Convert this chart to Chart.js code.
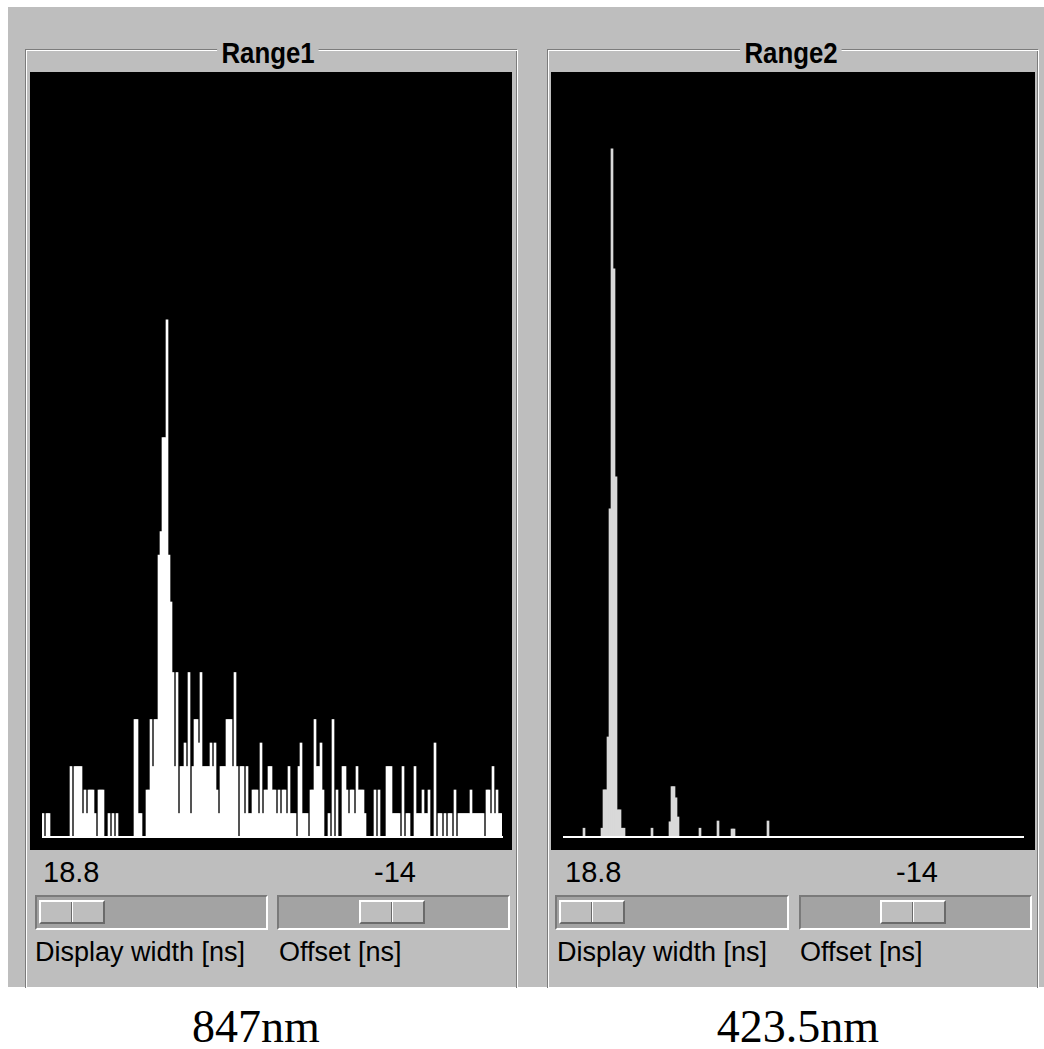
<!DOCTYPE html>
<html>
<head>
<meta charset="utf-8">
<script src="https://cdn.jsdelivr.net/npm/chart.js@4/dist/chart.umd.min.js"></script>
<style>
  html,body{margin:0;padding:0;background:#fff;width:1044px;height:1049px;overflow:hidden;}
  .abs{position:absolute;}
  #bg{left:8px;top:7px;width:1036px;height:980px;background:#bebebe;}
  .frameD{border:1px solid #7c7c7c;border-bottom:none;}
  .frameW{border:1px solid #ffffff;border-bottom:none;}
  .title{font-family:"Liberation Sans",Arial,sans-serif;font-weight:bold;font-size:30px;line-height:30px;color:#000;background:#bebebe;padding:0 5px;transform:translateX(-50%) scaleX(0.86);white-space:nowrap;}
  .black{background:#000;}
  .num{font-family:"Liberation Sans",Arial,sans-serif;font-size:29px;line-height:29px;color:#000;white-space:nowrap;}
  .lab{font-family:"Liberation Sans",Arial,sans-serif;font-size:27px;line-height:27px;color:#000;white-space:nowrap;}
  .trough{background:#a3a3a3;box-sizing:border-box;border:2px solid;border-color:#7a7a7a #ffffff #ffffff #7a7a7a;}
  .thumb{background:#bebebe;box-sizing:border-box;border:2px solid;border-color:#ffffff #6a6a6a #6a6a6a #ffffff;}
  .div1{background:#6a6a6a;width:1px;}
  .div2{background:#ffffff;width:1px;}
  .cap{font-family:"Liberation Serif","Times New Roman",serif;font-size:46px;line-height:46px;color:#000;white-space:nowrap;transform:translateX(-50%);}
</style>
</head>
<body>
<div id="bg" class="abs"></div>

<!-- Range1 frame -->
<div class="abs frameD" style="left:25px;top:49px;width:490px;height:938px;"></div>
<div class="abs frameW" style="left:26px;top:50px;width:490px;height:937px;"></div>
<div class="abs title" style="left:268px;top:38px;">Range1</div>
<div class="abs black" style="left:30px;top:72px;width:482px;height:778px;">
  <canvas id="c1" width="482" height="778"></canvas>
</div>
<div class="abs num" style="left:43px;top:858px;">18.8</div>
<div class="abs num" style="left:316px;top:858px;width:100px;text-align:right;">-14</div>
<div class="abs trough" style="left:35px;top:895px;width:233px;height:35px;"></div>
<div class="abs thumb" style="left:39px;top:900px;width:66px;height:24px;"></div>
<div class="abs div1" style="left:71px;top:902px;height:20px;"></div>
<div class="abs div2" style="left:72px;top:902px;height:20px;"></div>
<div class="abs trough" style="left:277px;top:895px;width:233px;height:35px;"></div>
<div class="abs thumb" style="left:359px;top:900px;width:66px;height:24px;"></div>
<div class="abs div1" style="left:391px;top:902px;height:20px;"></div>
<div class="abs div2" style="left:392px;top:902px;height:20px;"></div>
<div class="abs lab" style="left:35px;top:939px;">Display width [ns]</div>
<div class="abs lab" style="left:279px;top:939px;">Offset [ns]</div>

<!-- Range2 frame -->
<div class="abs frameD" style="left:547px;top:49px;width:489px;height:938px;"></div>
<div class="abs frameW" style="left:548px;top:50px;width:489px;height:937px;"></div>
<div class="abs title" style="left:791px;top:38px;">Range2</div>
<div class="abs black" style="left:551px;top:72px;width:484px;height:778px;">
  <canvas id="c2" width="484" height="778"></canvas>
</div>
<div class="abs num" style="left:565px;top:858px;">18.8</div>
<div class="abs num" style="left:838px;top:858px;width:100px;text-align:right;">-14</div>
<div class="abs trough" style="left:555px;top:895px;width:234px;height:35px;"></div>
<div class="abs thumb" style="left:559px;top:900px;width:66px;height:24px;"></div>
<div class="abs div1" style="left:591px;top:902px;height:20px;"></div>
<div class="abs div2" style="left:592px;top:902px;height:20px;"></div>
<div class="abs trough" style="left:799px;top:895px;width:233px;height:35px;"></div>
<div class="abs thumb" style="left:880px;top:900px;width:66px;height:24px;"></div>
<div class="abs div1" style="left:912px;top:902px;height:20px;"></div>
<div class="abs div2" style="left:913px;top:902px;height:20px;"></div>
<div class="abs lab" style="left:557px;top:939px;">Display width [ns]</div>
<div class="abs lab" style="left:800px;top:939px;">Offset [ns]</div>

<!-- captions -->
<div class="abs cap" style="left:256px;top:1004px;">847nm</div>
<div class="abs cap" style="left:798px;top:1004px;">423.5nm</div>

<script>
// Range1 (847nm) histogram counts, one value per bin
const range1Counts = [
  1,0,1,1,0,0,0,0,0,0,
  0,0,0,0,3,0,3,3,3,3,
  1,2,1,2,2,2,1,0,2,2,
  2,0,0,1,0,1,0,1,0,0,
  0,0,0,0,0,0,5,5,1,1,
  0,0,2,2,5,3,5,5,12,13,
  17,17,22,12,10,7,3,7,1,3,
  3,4,3,7,1,3,5,5,4,7,
  3,3,3,3,4,3,4,2,1,3,
  3,3,5,5,5,3,7,3,0,3,
  3,1,3,1,1,2,2,2,1,4,
  1,2,2,3,3,2,2,1,2,1,
  2,2,1,3,1,1,1,0,3,4,
  1,1,1,0,2,2,5,3,3,4,
  2,0,0,1,0,5,0,2,0,0,
  3,3,2,1,2,2,1,3,2,2,
  2,1,0,0,0,0,2,0,2,0,
  0,0,3,3,3,1,1,1,1,0,
  3,0,1,1,0,0,3,1,1,1,
  2,1,1,2,0,0,4,0,1,1,
  0,1,0,1,1,0,2,0,1,1,
  1,1,1,1,2,1,1,1,1,1,
  1,0,2,2,1,3,1,2,1,1
];

// Range2 (423.5nm) histogram counts, one value per bin
const range2Counts = [
  0,0,0,0,0,0,0,0,0,0,
  1.1,0,0,0,0,0,0,0,0,1.1,
  5.9,5.9,12.5,41,86,71,45,3.4,3.4,1.1,
  1.1,0,0,0,0,0,0,0,0,0,
  0,0,0,0,1.1,0,0,0,0,0,
  0,0,0,1.9,6.3,6.3,4.9,2.5,0,0,
  0,0,0,0,0,0,0,0,1.1,0,
  0,0,0,0,0,0,0,2,0,0,
  0,0,0,0,1,1,0,0,0,0,
  0,0,0,0,0,0,0,0,0,0,
  0,0,2,0,0,0,0,0,0,0,
  0,0,0,0,0,0,0,0,0,0,
  0,0,0,0,0,0,0,0,0,0,
  0,0,0,0,0,0,0,0,0,0,
  0,0,0,0,0,0,0,0,0,0,
  0,0,0,0,0,0,0,0,0,0,
  0,0,0,0,0,0,0,0,0,0,
  0,0,0,0,0,0,0,0,0,0,
  0,0,0,0,0,0,0,0,0,0,
  0,0,0,0,0,0,0,0,0,0,
  0,0,0,0,0,0,0,0,0,0,
  0,0,0,0,0,0,0,0,0,0,
  0,0,0,0,0,0,0,0,0,0
];

const binLabels1 = range1Counts.map((_, i) => i);
const binLabels2 = range2Counts.map((_, i) => i);

const baselinePlugin = {
  id: 'baseline',
  afterDatasetsDraw(chart) {
    const {ctx, chartArea, scales} = chart;
    const y = scales.y.getPixelForValue(0);
    ctx.save();
    ctx.strokeStyle = '#ffffff';
    ctx.lineWidth = 2;
    ctx.beginPath();
    ctx.moveTo(chartArea.left, y);
    ctx.lineTo(chartArea.right + 1, y);
    ctx.stroke();
    ctx.restore();
  }
};

function makeHist(id, labels, counts, color, yMax, pad) {
  return new Chart(document.getElementById(id), {
    type: 'bar',
    data: {
      labels: labels,
      datasets: [{
        data: counts,
        backgroundColor: color,
        borderWidth: 0,
        barPercentage: 1,
        categoryPercentage: 1
      }]
    },
    options: {
      responsive: false,
      animation: false,
      events: [],
      layout: { padding: pad },
      plugins: { legend: { display: false }, tooltip: { enabled: false } },
      scales: {
        x: { display: false },
        y: { display: false, min: 0, max: yMax }
      }
    },
    plugins: [baselinePlugin]
  });
}

makeHist('c1', binLabels1, range1Counts, '#ffffff', 32.55, {left: 12, right: 10, top: 0, bottom: 13});
makeHist('c2', binLabels2, range2Counts, '#d9d9d9', 95.6, {left: 12, right: 12, top: 0, bottom: 13});
</script>
</body>
</html>
